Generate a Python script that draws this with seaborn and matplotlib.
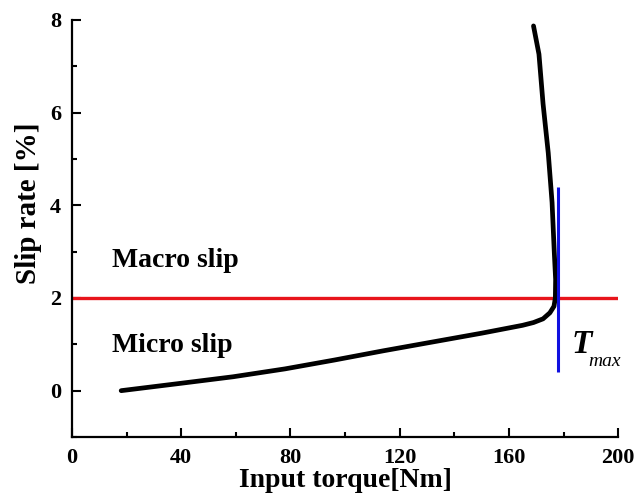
import matplotlib
matplotlib.use("Agg")
import matplotlib.pyplot as plt
import seaborn as sns
import pandas as pd
from matplotlib.ticker import MultipleLocator

# Data
torque = [18, 40, 59, 78, 96, 114, 132, 150, 165, 169, 172.5, 175, 176.5, 177,
          177.1, 176.6, 175.8, 174.4, 172.5, 171, 169]
slip = [0, 0.16, 0.30, 0.47, 0.66, 0.86, 1.05, 1.24, 1.41, 1.47, 1.55, 1.68, 1.82, 2.0,
        2.4, 3.0, 4.06, 5.13, 6.19, 7.26, 7.87]
threshold_slip = 2.0
t_max = 178
t_max_span = [0.4, 4.4]
x_ticks = [0, 40, 80, 120, 160, 200]
y_ticks = [0, 2, 4, 6, 8]

sns.set_theme(style="ticks")
plt.rcParams['font.family'] = ['Liberation Serif', 'DejaVu Serif']
plt.rcParams['font.weight'] = 'bold'
plt.rcParams['text.color'] = 'black'
plt.rcParams['axes.labelcolor'] = 'black'
plt.rcParams['xtick.color'] = 'black'
plt.rcParams['ytick.color'] = 'black'

fig = plt.figure(figsize=(6.34, 4.97), dpi=100)
ax = fig.add_axes([0.1136, 0.1207, 0.975 - 0.1136, 0.96 - 0.1207])

df = pd.DataFrame({"torque": torque, "slip": slip})
ax.axhline(threshold_slip, color="#e8141b", lw=2.4, zorder=1)
sns.lineplot(data=df, x="torque", y="slip", sort=False, estimator=None, errorbar=None,
             color="black", lw=3.4, ax=ax, zorder=3)
ax.vlines(t_max, t_max_span[0], t_max_span[1], color="#1010e0", lw=2.2, zorder=4)

ax.set_xlim(0, 200)
ax.set_ylim(-1, 8)
ax.set_xticks(x_ticks)
ax.set_yticks(y_ticks)
ax.xaxis.set_minor_locator(MultipleLocator(20))
ax.yaxis.set_minor_locator(MultipleLocator(1))
ax.tick_params(which="major", direction="in", length=6.5, width=1.5, labelsize=16, pad=8)
ax.tick_params(which="minor", direction="in", length=3.5, width=1.5)
for lab in ax.get_xticklabels() + ax.get_yticklabels():
    lab.set_fontweight("bold")

for s in ["top", "right"]:
    ax.spines[s].set_visible(False)
for s in ["left", "bottom"]:
    ax.spines[s].set_linewidth(1.6)
    ax.spines[s].set_color("black")

ax.set_xlabel("Input torque[Nm]", fontsize=20, fontweight="bold", labelpad=0)
ax.set_ylabel("Slip rate [%]", fontsize=21, fontweight="bold")
ax.yaxis.set_label_coords(-0.055, 0.56)

ax.text(14.5, 2.8, "Macro slip", fontsize=20, fontweight="bold", va="center", ha="left")
ax.text(14.5, 0.97, "Micro slip", fontsize=20, fontweight="bold", va="center", ha="left")
ax.text(183, 1.0, "T", fontsize=24, fontweight="bold", style="italic", va="center", ha="left")
ax.text(189, 0.62, "max", fontsize=14, style="italic", va="center", ha="left", fontweight="normal")

fig.savefig("out.png", dpi=100)
